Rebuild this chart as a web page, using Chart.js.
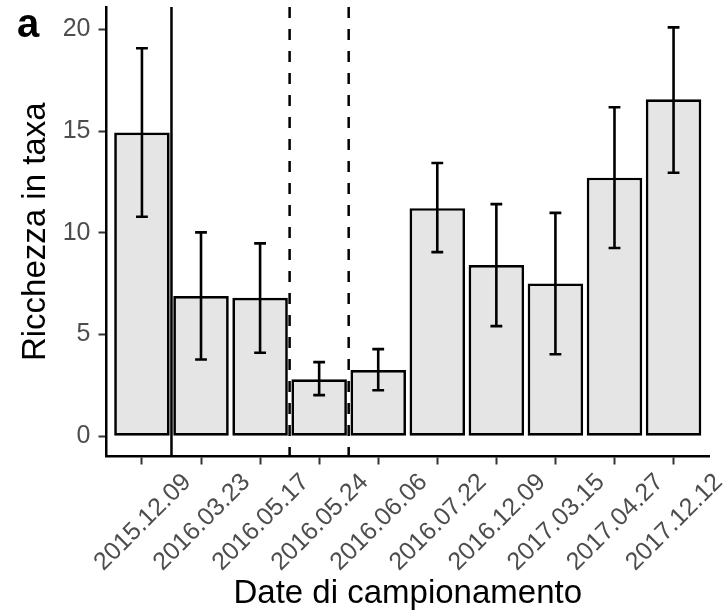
<!DOCTYPE html>
<html>
<head>
<meta charset="utf-8">
<script src="https://cdn.jsdelivr.net/npm/chart.js@4/dist/chart.umd.min.js"></script>
<style>
  html, body { margin: 0; padding: 0; background: #fff; }
  #wrap { width: 723px; height: 614px; }
</style>
</head>
<body>
<div id="wrap"><canvas id="myChart"></canvas></div>
<script>
const dates = ["2015.12.09", "2016.03.23", "2016.05.17", "2016.05.24", "2016.06.06",
               "2016.07.22", "2016.12.09", "2017.03.15", "2017.04.27", "2017.12.12"];
const richness = [14.93, 6.89, 6.80, 2.80, 3.25, 11.21, 8.41, 7.51, 12.71, 16.56];
const errLow = [10.79, 3.77, 4.10, 2.02, 2.26, 9.05, 5.41, 4.03, 9.25, 12.95];
const errHigh = [19.07, 10.02, 9.48, 3.64, 4.28, 13.43, 11.41, 10.98, 16.17, 20.10];
const yTicks = [0, 5, 10, 15, 20];
const solidBreaks = [0.5];
const dashedBreaks = [2.5, 3.5];

const FONT = '"Liberation Sans", Arial, sans-serif';

// error bars, breaks, rotated date labels and the panel tag
const extras = {
  id: "extras",
  afterDatasetsDraw(chart) {
    const ctx = chart.ctx;
    const xs = chart.scales.x;
    const ys = chart.scales.y;
    const area = chart.chartArea;
    ctx.save();
    ctx.strokeStyle = "#000";
    ctx.lineWidth = 2.6;
    ctx.lineCap = "butt";
    for (let i = 0; i < dates.length; i++) {
      const x = xs.getPixelForValue(i);
      const xl = xs.getPixelForValue(i - 0.1);
      const xr = xs.getPixelForValue(i + 0.1);
      const yl = ys.getPixelForValue(errLow[i]);
      const yh = ys.getPixelForValue(errHigh[i]);
      ctx.beginPath();
      ctx.moveTo(x, yl); ctx.lineTo(x, yh);
      ctx.moveTo(xl, yl); ctx.lineTo(xr, yl);
      ctx.moveTo(xl, yh); ctx.lineTo(xr, yh);
      ctx.stroke();
    }
    ctx.lineWidth = 2.5;
    solidBreaks.forEach(v => {
      const x = xs.getPixelForValue(v);
      ctx.beginPath();
      ctx.moveTo(x, area.top); ctx.lineTo(x, area.bottom);
      ctx.stroke();
    });
    ctx.setLineDash([11, 11]);
    dashedBreaks.forEach(v => {
      const x = xs.getPixelForValue(v);
      ctx.beginPath();
      ctx.moveTo(x, area.top); ctx.lineTo(x, area.bottom);
      ctx.stroke();
    });
    ctx.restore();
  },
  afterDraw(chart) {
    const ctx = chart.ctx;
    const xs = chart.scales.x;
    ctx.save();
    ctx.fillStyle = "#4d4d4d";
    ctx.font = "25px " + FONT;
    ctx.textAlign = "center";
    ctx.textBaseline = "middle";
    dates.forEach((d, i) => {
      const x = xs.getPixelForValue(i) + 1;
      ctx.save();
      ctx.translate(x, chart.chartArea.bottom + 66);
      ctx.rotate(-Math.PI / 4);
      ctx.fillText(d, 0, 0);
      ctx.restore();
    });
    ctx.fillStyle = "#000";
    ctx.font = "bold 40px " + FONT;
    ctx.textAlign = "left";
    ctx.textBaseline = "alphabetic";
    ctx.fillText("a", 17, 37);
    ctx.restore();
  }
};

function noPad(s) {
  s.paddingTop = 0; s.paddingBottom = 0; s.paddingLeft = 0; s.paddingRight = 0;
}

new Chart("myChart", {
  type: "bar",
  data: {
    datasets: [{
      data: dates.map((d, i) => ({ x: i, y: richness[i] })),
      backgroundColor: "#e5e5e5",
      borderColor: "#000",
      borderWidth: 2.7,
      borderSkipped: false,
      categoryPercentage: 1,
      barPercentage: 0.94
    }]
  },
  options: {
    responsive: true,
    maintainAspectRatio: false,
    animation: false,
    devicePixelRatio: 1,
    layout: { padding: { left: 15, top: 7, right: 14, bottom: 0 } },
    plugins: { legend: { display: false }, tooltip: { enabled: false } },
    scales: {
      x: {
        type: "linear",
        min: -0.6,
        max: 9.6,
        offset: false,
        afterBuildTicks: s => { s.ticks = dates.map((d, i) => ({ value: i })); },
        afterFit: s => { s.height = 157.5; noPad(s); },
        grid: { offset: false, drawOnChartArea: false, drawTicks: true, tickLength: 8, tickColor: "#333", tickWidth: 2 },
        border: { display: true, color: "#000", width: 2.5 },
        ticks: { display: false },
        title: {
          display: true,
          text: "Date di campionamento",
          color: "#000",
          font: { family: FONT, size: 33, lineHeight: 1 },
          padding: { top: 4, bottom: 4 }
        }
      },
      y: {
        min: -1.0,
        max: 21.1,
        afterBuildTicks: s => { s.ticks = yTicks.map(v => ({ value: v })); },
        afterFit: s => { s.width = 91.5; noPad(s); },
        grid: { drawOnChartArea: false, drawTicks: true, tickLength: 8, tickColor: "#333", tickWidth: 2 },
        border: { display: true, color: "#000", width: 2.5 },
        ticks: { color: "#4d4d4d", padding: 8, font: { family: FONT, size: 25 } },
        title: {
          display: true,
          text: "Ricchezza in taxa",
          color: "#000",
          font: { family: FONT, size: 33, lineHeight: 1 },
          padding: { top: 4, bottom: 4 }
        }
      }
    }
  },
  plugins: [extras]
});
</script>
</body>
</html>
